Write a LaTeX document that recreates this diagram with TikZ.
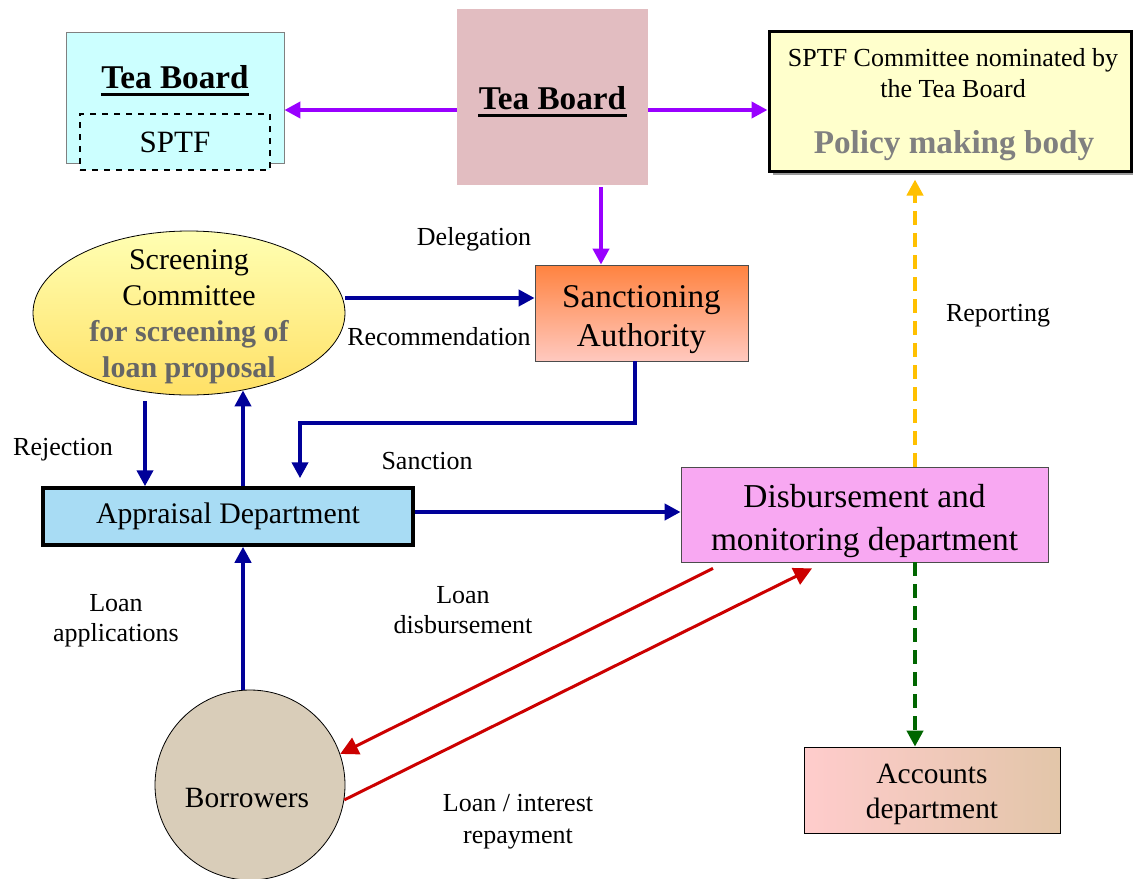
\documentclass[tikz,border=0pt]{standalone}
\usepackage{fontspec}
\setmainfont{Liberation Serif}
\usetikzlibrary{shapes.geometric,arrows.meta,shadows}

\definecolor{tbcyan}{HTML}{CCFFFF}
\definecolor{tbpink}{HTML}{E2BDC1}
\definecolor{polyellow}{HTML}{FFFFCC}
\definecolor{arrpurple}{HTML}{9900FF}
\definecolor{arrblue}{HTML}{000099}
\definecolor{arrred}{HTML}{CC0000}
\definecolor{arryellow}{HTML}{FFC000}
\definecolor{arrgreen}{HTML}{006600}
\definecolor{appblue}{HTML}{A8DCF4}
\definecolor{dispink}{HTML}{F8A8F2}
\definecolor{bortan}{HTML}{D9CDB9}

\begin{document}
\begin{tikzpicture}[x=0.5pt,y=-0.5pt,
  box/.style={rectangle,inner sep=0pt,align=center},
  txt/.style={align=center,inner sep=0pt},
  lbl/.style={font=\fontsize{13}{15}\selectfont,align=center,inner sep=0pt,yshift=-1.5pt},
  title/.style={font=\fontsize{16.6}{18}\selectfont\bfseries,inner sep=0pt},
  purparr/.style={line width=2pt,arrpurple,-{Triangle[length=8pt,width=8pt]}},
  bluearr/.style={line width=2pt,arrblue,-{Triangle[length=8pt,width=8pt]}},
  redarr/.style={line width=1.5pt,arrred,-{Triangle[length=9pt,width=9pt]}},
  dasharr/.style={line width=2pt,dashed,dash pattern=on 7pt off 4pt,-{Triangle[length=8pt,width=8pt]}}]
\useasboundingbox (0,0) rectangle (1133,878);

% top row
\node[box,draw=gray,fill=tbcyan,minimum width=109pt,minimum height=65.5pt] (tbl) at (175,97.5) {};
\node[title] (tbltxt) at (175,77) {Tea Board};
\draw[line width=1.4pt] ([yshift=-3pt]tbltxt.base west) -- ([yshift=-3pt]tbltxt.base east);
\node[box,draw,dashed,line width=0.8pt,fill=tbcyan,minimum width=95pt,minimum height=28pt,font=\fontsize{15.5}{17}\selectfont] (sptf) at (175,142) {SPTF};
\node[box,fill=tbpink,minimum width=95.5pt,minimum height=88pt] (tbc) at (552.5,97) {};
\node[title] (tbctxt) at (552.5,98) {Tea Board};
\draw[line width=1.4pt] ([yshift=-3pt]tbctxt.base west) -- ([yshift=-3pt]tbctxt.base east);
\node[box,draw,line width=1.5pt,fill=polyellow,minimum width=181pt,minimum height=70pt,
  drop shadow={shadow xshift=2pt,shadow yshift=-2pt,fill=gray!80,opacity=1}] (pol) at (950,101) {};
\node[txt,font=\fontsize{13}{15.5}\selectfont] (poltxt) at (953,73) {SPTF Committee nominated by\\the Tea Board};
\node[title,text=gray] (polbody) at (954,146) {Policy making body};

% middle row
\node[ellipse,draw,inner sep=0pt,minimum width=156pt,minimum height=82pt,
  top color=yellow!30!white,bottom color=yellow!60!orange!60!white] (scr) at (189,313) {};
\node[txt,font=\fontsize{15}{18}\selectfont] (scrtxt) at (189,317)
  {Screening\\Committee\\\textbf{\textcolor{black!60}{for screening of}}\\\textbf{\textcolor{black!60}{loan proposal}}};
\node[box,draw=black!70,top color=orange!70!red!75!white,bottom color=orange!30!red!25!white,
  minimum width=106.5pt,minimum height=48pt] (san) at (641.5,313) {};
\node[txt,font=\fontsize{16.6}{19.5}\selectfont] (santxt) at (641.5,320) {Sanctioning\\Authority};
\node[box,draw,line width=1.75pt,fill=appblue,minimum width=185pt,minimum height=28.5pt,
  font=\fontsize{14.9}{17}\selectfont] (app) at (228,516.5) {Appraisal Department};
\node[box,draw=black!70,fill=dispink,minimum width=183.5pt,minimum height=47.5pt] (dis) at (864.5,514.5) {};
\node[txt,font=\fontsize{16.7}{21.5}\selectfont] (distxt) at (864.5,521) {Disbursement and\\monitoring department};

% bottom row
\node[circle,draw,fill=bortan,minimum size=95pt,inner sep=0pt] (bor) at (250,785) {};
\node[font=\fontsize{14.7}{17}\selectfont,inner sep=0pt] (bortxt) at (247,798) {Borrowers};
\node[box,draw,left color=red!20!white,right color=brown!45!white,minimum width=128pt,minimum height=43pt] (acc) at (932,790) {};
\node[txt,font=\fontsize{14.7}{17.5}\selectfont] (acctxt) at (932,794) {Accounts\\department};

% labels
\node[lbl] (ldel) at (474,236) {Delegation};
\node[lbl] (lrec) at (439,334) {Recommendation};
\node[lbl] (lsan) at (427,458) {Sanction};
\node[lbl] (lrej) at (63,447) {Rejection};
\node[lbl] (lrep) at (998,313) {Reporting};
\node[lbl] (lapp) at (116,618) {Loan\\applications};
\node[lbl] (ldis) at (463,607) {Loan\\disbursement};
\node[lbl,font=\fontsize{13}{16}\selectfont] (lrpy) at (518,819) {Loan / interest\\repayment};

% arrows
\draw[purparr] ([yshift=-6.5pt]tbc.west) -- ([yshift=-6.5pt]tbc.west -| tbl.east);
\draw[purparr] ([yshift=-6.5pt]tbc.east) -- ([yshift=-6.5pt]tbc.east -| pol.west);
\draw[purparr] ([xshift=24.25pt,yshift=-1pt]tbc.south) -- ([xshift=24.25pt]tbc.south |- san.north);
\draw[bluearr] ([yshift=7.5pt]scr.east) -- ([yshift=7.5pt]scr.east -| san.west);
\draw[bluearr] ([xshift=-3.25pt]san.south) -- ++(0,-31pt) -| ([xshift=36pt,yshift=4pt]app.north);
\draw[bluearr] ([xshift=-22pt,yshift=-3pt]scr.south) -- ([xshift=-41.5pt]app.north);
\draw[bluearr] ([xshift=7.5pt]app.north) -- ([xshift=27pt,yshift=2.5pt]scr.south);
\draw[bluearr] ([yshift=2.25pt]app.east) -- ([yshift=2.25pt]app.east -| dis.west);
\draw[bluearr] ([xshift=7.5pt]app.south |- bor.north) -- ([xshift=7.5pt]app.south);
\draw[dasharr,arryellow,shorten >=3.5pt] ([xshift=25.25pt]dis.north) -- ([xshift=25.25pt]dis.north |- pol.south);
\draw[dasharr,arrgreen] ([xshift=25.25pt]dis.south) -- ([xshift=25.25pt]dis.south |- acc.north);
\draw[redarr] ([xshift=-75.75pt,yshift=-3pt]dis.south) -- (bor.19);
\draw[redarr] (bor.-9) -- ([xshift=-26.25pt,yshift=-3pt]dis.south);
\end{tikzpicture}
\end{document}
